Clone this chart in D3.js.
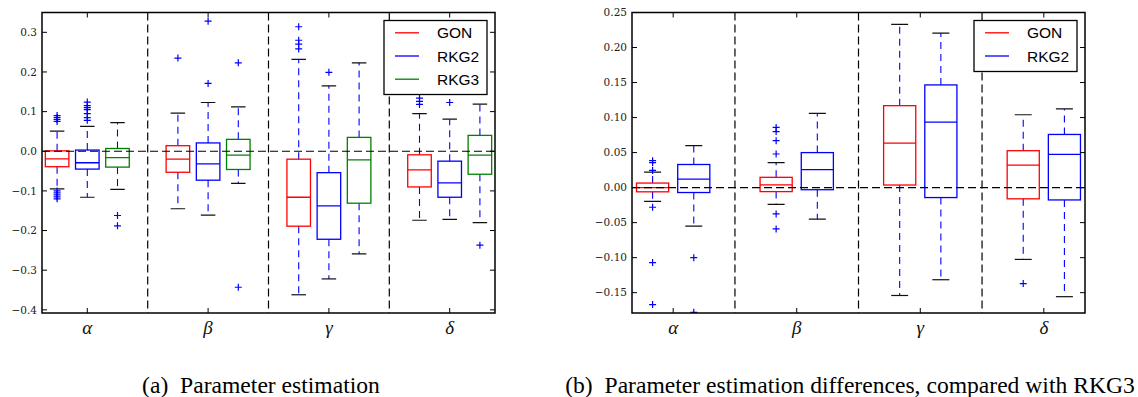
<!DOCTYPE html>
<html><head><meta charset="utf-8">
<script src="https://cdn.jsdelivr.net/npm/d3@7"></script>
<style>
html,body{margin:0;padding:0;background:#fff;}
svg{display:block;}
.serif{font-family:"Liberation Serif","Times New Roman",Times,"DejaVu Serif",serif;}
.tick{font-family:"DejaVu Serif","Liberation Serif",serif;}
.sans{font-family:"Liberation Sans",Arial,Helvetica,sans-serif;}
</style></head>
<body>
<svg id="chart" width="1138" height="397"></svg>
<script>
// ---------- DATA ----------
const paramLabels = ["α", "β", "γ", "δ"];
const seriesNamesA = ["GON", "RKG2", "RKG3"];
const seriesNamesB = ["GON", "RKG2"];
const seriesColors = ["#ff0000", "#0000ff", "#008000"];

// box stats per parameter: [lowerWhisker, q1, median, q3, upperWhisker]
const estGON  = [[-0.095, -0.039, -0.019, 0.001, 0.051], [-0.145, -0.053, -0.020, 0.014, 0.096], [-0.362, -0.189, -0.116, -0.020, 0.232], [-0.174, -0.090, -0.047, -0.009, 0.095]];
const estRKG2 = [[-0.116, -0.045, -0.029, 0.003, 0.063], [-0.161, -0.073, -0.032, 0.021, 0.123], [-0.322, -0.222, -0.138, -0.054, 0.165], [-0.172, -0.116, -0.080, -0.025, 0.081]];
const estRKG3 = [[-0.096, -0.040, -0.016, 0.007, 0.072], [-0.081, -0.046, -0.010, 0.030, 0.112], [-0.259, -0.131, -0.022, 0.035, 0.223], [-0.180, -0.058, -0.010, 0.040, 0.119]];
const estGONOut  = [[0.075, 0.080, 0.085, 0.090, -0.100, -0.105, -0.110, -0.115, -0.120], [0.235], [0.314, 0.280, 0.270, 0.258], [0.118, 0.126, 0.134]];
const estRKG2Out = [[0.078, 0.085, 0.095, 0.105, 0.110, 0.115, 0.124], [0.171, 0.328], [0.199], [0.123]];
const estRKG3Out = [[-0.162, -0.188], [0.223, -0.343], [], [-0.237]];

const diffGON  = [[-0.0195, -0.006, 0.000, 0.0065, 0.022], [-0.024, -0.0057, 0.004, 0.0147, 0.0356], [-0.154, 0.0037, 0.0635, 0.117, 0.233], [-0.1025, -0.016, 0.032, 0.0527, 0.104]];
const diffRKG2 = [[-0.055, -0.007, 0.012, 0.033, 0.060], [-0.045, -0.003, 0.0256, 0.050, 0.106], [-0.1315, -0.0142, 0.0934, 0.1466, 0.2206], [-0.1557, -0.0176, 0.0474, 0.0759, 0.1124]];
const diffGONOut  = [[0.0384, 0.0356, 0.0245, -0.028, -0.107, -0.167], [0.086, 0.080, 0.067, 0.048, -0.0375, -0.059], [], [-0.137]];
const diffRKG2Out = [[-0.100, -0.178], [], [], []];

const yTicksA = [0.3, 0.2, 0.1, 0.0, -0.1, -0.2, -0.3, -0.4];
const yTicksB = [0.25, 0.20, 0.15, 0.10, 0.05, 0.00, -0.05, -0.10, -0.15];

const captionA = "(a)  Parameter estimation";
const captionB = "(b)  Parameter estimation differences, compared with RKG3";

// ---------- DRAW ----------
const svg = d3.select("#chart");
const minus = s => s.replace("-", "\u2212");

function drawPanel(cfg) {
  const nS = cfg.series.length;
  const per = nS + 1;
  const nPos = paramLabels.length * per - 1;
  const x = d3.scaleLinear().domain([0.5, nPos + 0.5]).range([cfg.x0, cfg.x1]);
  const y = d3.scaleLinear().domain(cfg.yDomain).range([cfg.y1, cfg.y0]);
  const unit = x(2) - x(1);
  const boxW = 0.78 * unit;
  const capW = cfg.capW;

  const g = svg.append("g");
  const clipId = "clip" + cfg.id;
  svg.append("defs").append("clipPath").attr("id", clipId)
    .append("rect").attr("x", cfg.x0).attr("y", cfg.y0)
    .attr("width", cfg.x1 - cfg.x0).attr("height", cfg.y1 - cfg.y0);
  const plot = g.append("g").attr("clip-path", `url(#${clipId})`);

  cfg.series.forEach((stats, s) => {
    const col = seriesColors[s];
    stats.forEach((st, p) => {
      const cx = x(p * per + s + 1);
      const [lo, q1, med, q3, hi] = st;
      plot.append("line").attr("x1", cx).attr("x2", cx).attr("y1", y(q1)).attr("y2", y(lo))
        .attr("stroke", "#0000ff").attr("stroke-width", 1.1).attr("stroke-dasharray", "7,5");
      plot.append("line").attr("x1", cx).attr("x2", cx).attr("y1", y(q3)).attr("y2", y(hi))
        .attr("stroke", "#0000ff").attr("stroke-width", 1.1).attr("stroke-dasharray", "7,5");
      [lo, hi].forEach(v => {
        plot.append("line").attr("x1", cx - capW / 2).attr("x2", cx + capW / 2)
          .attr("y1", y(v)).attr("y2", y(v)).attr("stroke", "#111").attr("stroke-width", 1.2);
      });
      plot.append("rect").attr("x", cx - boxW / 2).attr("width", boxW)
        .attr("y", y(q3)).attr("height", y(q1) - y(q3))
        .attr("fill", "none").attr("stroke", col).attr("stroke-width", 1.3);
      plot.append("line").attr("x1", cx - boxW / 2).attr("x2", cx + boxW / 2)
        .attr("y1", y(med)).attr("y2", y(med)).attr("stroke", col).attr("stroke-width", 1.3);
      cfg.outliers[s][p].forEach(v => {
        const py = y(v);
        plot.append("path").attr("d", `M${cx - 3.5},${py}H${cx + 3.5}M${cx},${py - 3.5}V${py + 3.5}`)
          .attr("stroke", "#0000ff").attr("stroke-width", 1.2).attr("fill", "none");
      });
    });
  });

  plot.append("line").attr("x1", cfg.x0).attr("x2", cfg.x1).attr("y1", y(0)).attr("y2", y(0))
    .attr("stroke", "#000").attr("stroke-width", 1.2).attr("stroke-dasharray", "8,4");
  for (let k = 1; k < paramLabels.length; k++) {
    const dx = x(k * per);
    plot.append("line").attr("x1", dx).attr("x2", dx).attr("y1", cfg.y0).attr("y2", cfg.y1)
      .attr("stroke", "#000").attr("stroke-width", 1.2).attr("stroke-dasharray", "8,4");
  }

  const tickLen = 5;
  const xt = paramLabels.map((l, p) => ({ l, pos: x(p * per + (nS + 1) / 2) }));
  xt.forEach(t => {
    g.append("line").attr("x1", t.pos).attr("x2", t.pos).attr("y1", cfg.y1).attr("y2", cfg.y1 - tickLen).attr("stroke", "#000").attr("stroke-width", 1);
    g.append("line").attr("x1", t.pos).attr("x2", t.pos).attr("y1", cfg.y0).attr("y2", cfg.y0 + tickLen).attr("stroke", "#000").attr("stroke-width", 1);
    g.append("text").attr("class", "serif").attr("x", t.pos).attr("y", 334).attr("text-anchor", "middle")
      .style("font-style", "italic").style("font-size", "19px").attr("fill", "#111").text(t.l);
  });
  const fmt = d3.format(cfg.fmt);
  cfg.yTicks.forEach(v => {
    const py = y(v);
    g.append("line").attr("x1", cfg.x0).attr("x2", cfg.x0 + tickLen).attr("y1", py).attr("y2", py).attr("stroke", "#000").attr("stroke-width", 1);
    g.append("line").attr("x1", cfg.x1).attr("x2", cfg.x1 - tickLen).attr("y1", py).attr("y2", py).attr("stroke", "#000").attr("stroke-width", 1);
    g.append("text").attr("class", "tick").attr("x", cfg.x0 - 5).attr("y", py).attr("dy", "0.36em").attr("text-anchor", "end")
      .style("font-size", "10.5px").attr("fill", "#222")
      .text(minus(fmt(Math.abs(v) < 1e-9 ? 0 : v)));
  });

  g.append("rect").attr("x", cfg.x0).attr("y", cfg.y0).attr("width", cfg.x1 - cfg.x0).attr("height", cfg.y1 - cfg.y0)
    .attr("fill", "none").attr("stroke", "#000").attr("stroke-width", 1.5);

  const L = cfg.legend;
  const lg = g.append("g");
  lg.append("rect").attr("x", L.x).attr("y", L.y).attr("width", L.w).attr("height", L.h)
    .attr("fill", "#fff").attr("stroke", "#000").attr("stroke-width", 1.3);
  cfg.names.forEach((n, i) => {
    const ry = L.y + 12.3 + i * 23.2;
    lg.append("line").attr("x1", L.x + 11).attr("x2", L.x + 35).attr("y1", ry).attr("y2", ry)
      .attr("stroke", seriesColors[i]).attr("stroke-width", 1.3);
    lg.append("text").attr("class", "sans").attr("x", L.x + 53).attr("y", ry).attr("dy", "0.36em")
      .style("font-size", "15.5px").attr("fill", "#000").text(n);
  });

  svg.append("text").attr("class", "serif").attr("x", cfg.capX).attr("y", 393).attr("text-anchor", "middle")
    .style("font-size", "23.6px").attr("fill", "#000")
    .style("white-space", "pre").text(cfg.caption);
}

drawPanel({
  id: "A", x0: 42, x1: 495, y0: 12.5, y1: 313, yDomain: [-0.408, 0.35],
  series: [estGON, estRKG2, estRKG3], outliers: [estGONOut, estRKG2Out, estRKG3Out],
  names: seriesNamesA, yTicks: yTicksA, fmt: ".1f", capW: 14.5,
  legend: { x: 384, y: 20.5, w: 103, h: 74 }, caption: captionA, capX: 261
});
drawPanel({
  id: "B", x0: 632, x1: 1085, y0: 12.5, y1: 313, yDomain: [-0.179, 0.25],
  series: [diffGON, diffRKG2], outliers: [diffGONOut, diffRKG2Out],
  names: seriesNamesB, yTicks: yTicksB, fmt: ".2f", capW: 17,
  legend: { x: 974, y: 20.5, w: 103, h: 51 }, caption: captionB, capX: 850
});
</script>
</body></html>
